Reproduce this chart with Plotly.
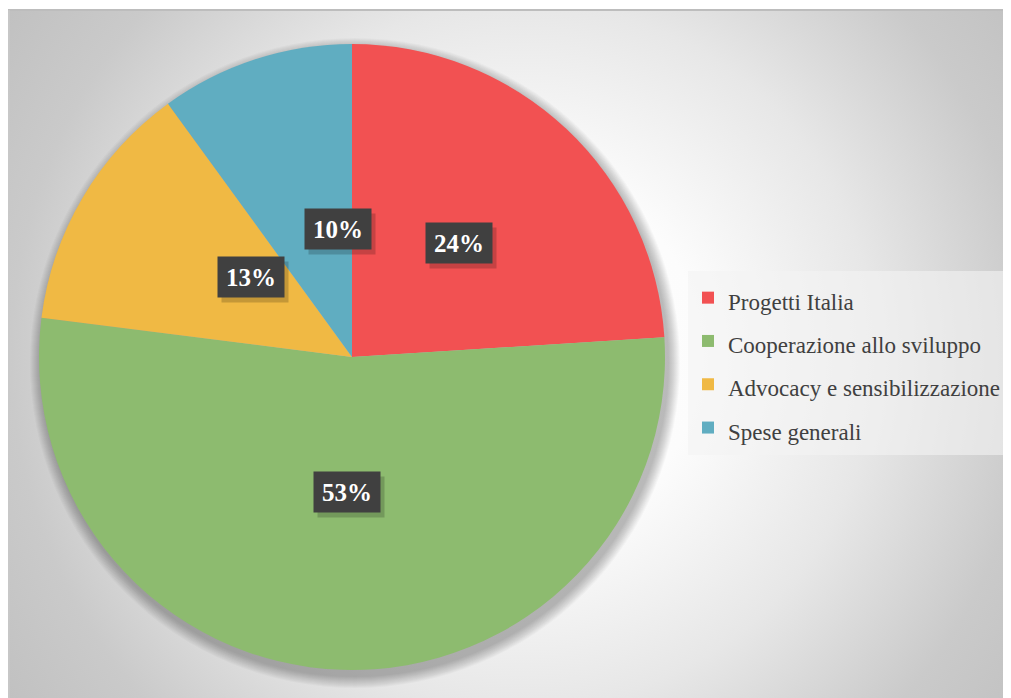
import base64
import math
import plotly.graph_objects as go

# ---- data ----
categories = ["Progetti Italia", "Cooperazione allo sviluppo",
              "Advocacy e sensibilizzazione", "Spese generali"]
values = [24, 53, 13, 10]
colors = ["#F25152", "#8DBB6F", "#F0B944", "#60ADC1"]

# page has an 8px body margin; figure fills the rest of the window
OFF = 8
W, H = 1003, 690
CX, CY, R = 352, 357, 313          # pie centre / radius in window px

def px_x(x):
    return (x - OFF) / W

def px_y(y):
    return 1 - (y - OFF) / H

BGW, BGH = W, H - 2
svg = f'''<svg xmlns="http://www.w3.org/2000/svg" width="{BGW}" height="{BGH}" viewBox="0 0 {BGW} {BGH}" preserveAspectRatio="none">
<defs><radialGradient id="g" gradientUnits="userSpaceOnUse" cx="515" cy="345" r="640">
<stop offset="0" stop-color="#ffffff"/>
<stop offset="0.28" stop-color="#fcfcfc"/>
<stop offset="0.55" stop-color="#e7e7e7"/>
<stop offset="0.8" stop-color="#cacaca"/>
<stop offset="1" stop-color="#bfbfbf"/>
</radialGradient></defs>
<rect x="0" y="0" width="{BGW}" height="{BGH}" fill="url(#g)"/>
</svg>'''
bg_uri = "data:image/svg+xml;base64," + base64.b64encode(svg.encode()).decode()

legend_labels = [f'<span style="font-size:23px">{c}</span>' for c in categories]

fig = go.Figure()
fig.add_trace(go.Pie(
    labels=legend_labels,
    values=values,
    marker=dict(colors=colors, line=dict(width=0)),
    sort=False,
    direction="clockwise",
    rotation=0,
    textinfo="none",
    hoverinfo="skip",
    domain=dict(x=[px_x(CX - R), px_x(CX + R)],
                y=[px_y(CY + R), px_y(CY - R)]),
))

# soft shadow under pie
shapes = []
for k in range(1, 13):
    rr = R + k * 1.0
    ox, oy = 3, 6
    shapes.append(dict(type="circle", xref="paper", yref="paper", layer="below",
                       x0=px_x(CX + ox - rr), x1=px_x(CX + ox + rr),
                       y0=px_y(CY + oy + rr), y1=px_y(CY + oy - rr),
                       fillcolor="rgba(0,0,0,0.022)", line=dict(width=0)))
# chart area border (top / left)
shapes.append(dict(type="line", xref="paper", yref="paper", layer="above",
                   x0=0, x1=1, y0=px_y(10), y1=px_y(10),
                   line=dict(color="#bdbdbd", width=2)))
shapes.append(dict(type="line", xref="paper", yref="paper", layer="above",
                   x0=px_x(9), x1=px_x(9), y0=0, y1=px_y(10),
                   line=dict(color="#c8c8c8", width=1.5)))

# data labels
total = sum(values)
annotations = []
cum = 0
for v in values:
    mid = (cum + v / 2) / total * 2 * math.pi
    cum += v
    lx = CX + 0.5 * R * math.sin(mid)
    ly = CY - 0.5 * R * math.cos(mid)
    txt = f"{round(v / total * 100)}%"
    annotations.append(dict(x=px_x(lx), y=px_y(ly), xref="paper", yref="paper",
                            text=" ", showarrow=False, width=64, height=38,
                            bgcolor="rgba(0,0,0,0.18)", xshift=4, yshift=-5))
    annotations.append(dict(x=px_x(lx), y=px_y(ly), xref="paper", yref="paper",
                            text=f"<b>{txt}</b>", showarrow=False, width=64, height=38,
                            bgcolor="#404040",
                            font=dict(family="Liberation Serif", size=25, color="white")))

fig.update_layout(
    width=W, height=H,
    margin=dict(l=0, r=0, t=0, b=0),
    paper_bgcolor="white",
    plot_bgcolor="white",
    showlegend=True,
    legend=dict(x=px_x(688), xanchor="left", y=px_y(271), yanchor="top",
                bgcolor="rgba(243,243,243,0.6)",
                font=dict(family="Liberation Serif", size=31, color="#404040"),
                itemclick=False, itemdoubleclick=False),
    images=[dict(source=bg_uri, xref="paper", yref="paper",
                 x=px_x(8), y=px_y(10), sizex=BGW / W, sizey=BGH / H,
                 xanchor="left", yanchor="top", sizing="stretch", layer="below")],
    shapes=shapes,
    annotations=annotations,
)

fig.write_html("out.html")
